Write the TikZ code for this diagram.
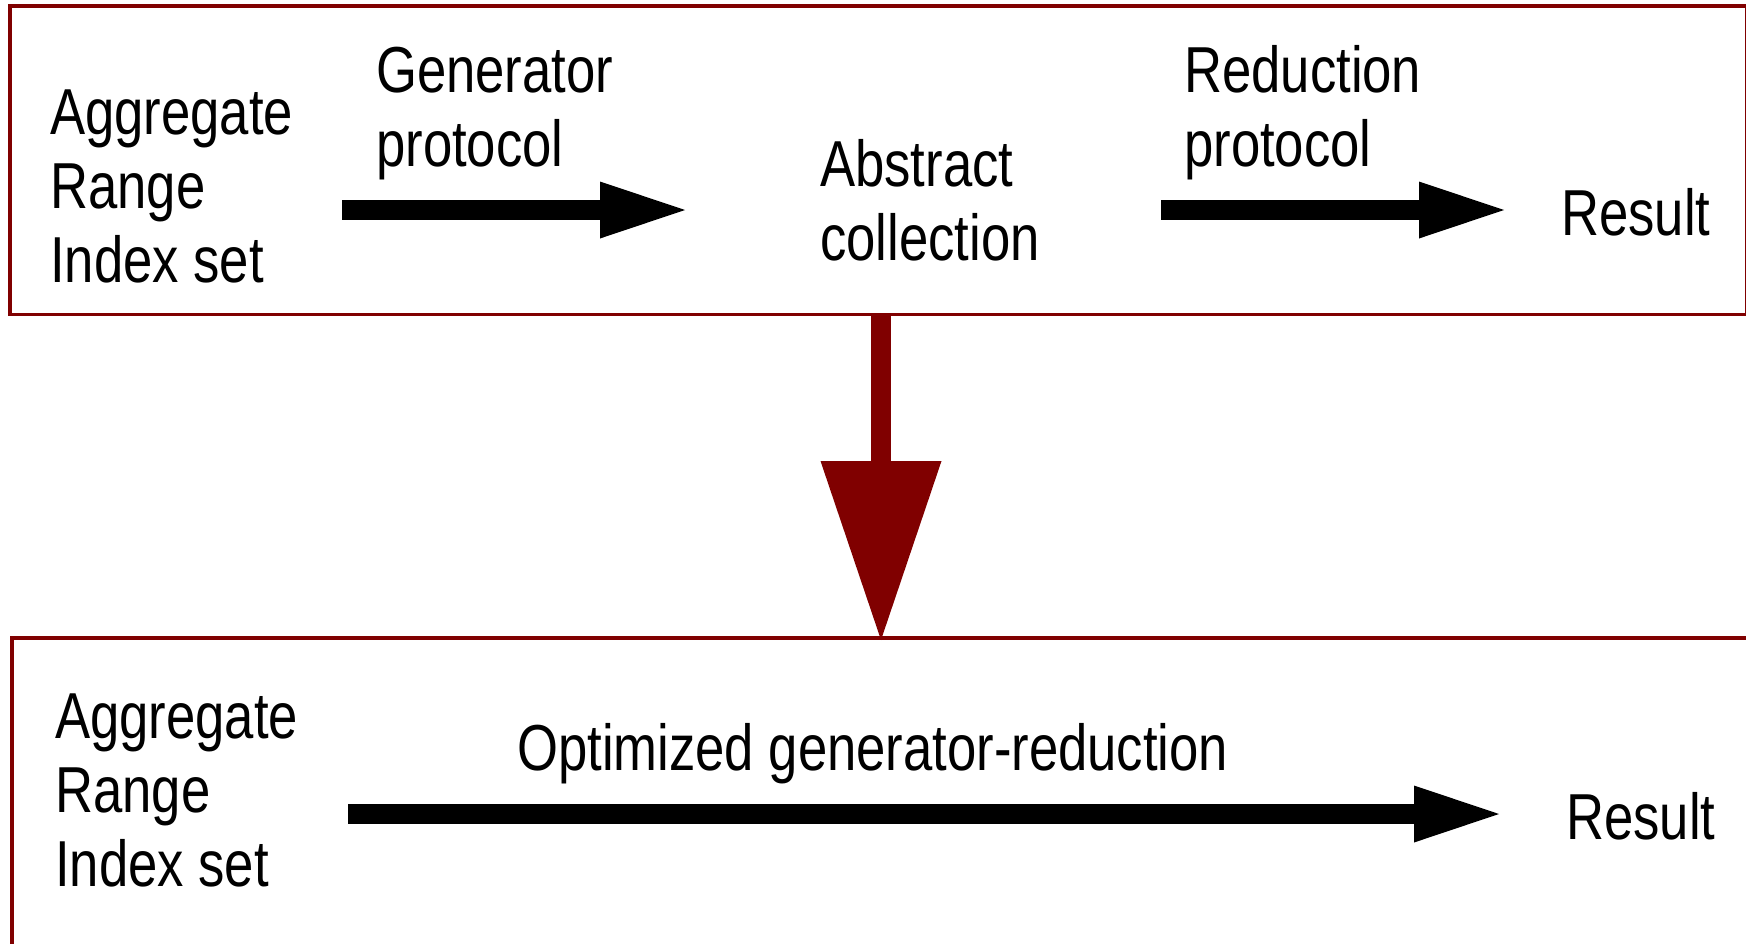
\documentclass[tikz,border=0pt]{standalone}
\usepackage{fontspec}
\setmainfont{Liberation Sans}[FakeStretch=0.81]
\usetikzlibrary{arrows.meta}
\definecolor{frameRed}{RGB}{128,0,0}
\begin{document}
\begin{tikzpicture}[x=1pt,y=-1pt,
  frame/.style={draw=frameRed,line width=3.5pt},
  % multi-line labels are placed by the baseline of their last line
  label/.style={anchor=base west,inner sep=0pt,align=left,
    font=\fontsize{65}{74}\selectfont},
  fatarrow/.style={line width=20pt,line cap=butt,
    -{Triangle[length=85pt 0 0,width=57pt 0 0,line width=0pt 0 0]}},
  downarrow/.style={frameRed,line width=20pt,line cap=butt,
    -{Triangle[length=179pt 0 0,width=121pt 0 0,line width=0pt 0 0]}}]
\clip (0,0) rectangle (1746,943);

% frames of the two pipelines
\draw[frame] (10,6) rectangle (1747,314.5);
\draw[frame] (12,638) rectangle (1780,980);

% upper pipeline
\node[label] (inA) at (50,282) {Aggregate\\Range\\Index set};
\node[label] (gen) at (376,166.5) {Generator\\protocol};
\node[label] (abs) at (820,260.5) {Abstract\\collection};
\node[label] (red) at (1184,166.5) {Reduction\\protocol};
\node[label] (resA) at (1561,235) {Result};

\coordinate (g0) at (342,210);
\coordinate (g1) at (685,210);
\coordinate (r0) at (1161,210);
\coordinate (r1) at (1504,210);
\draw[fatarrow] (g0) -- (g1);
\draw[fatarrow] (r0) -- (r1);

% transformation between the two pipelines
\coordinate (d0) at (881,314.5);
\coordinate (d1) at (881,640);
\draw[downarrow] (d0) -- (d1);

% lower pipeline
\node[label] (inB) at (55,886) {Aggregate\\Range\\Index set};
\node[label] (opt) at (517,770.5) {Optimized generator-reduction};
\node[label] (resB) at (1566,839) {Result};

\coordinate (o0) at (348,814);
\coordinate (o1) at (1499,814);
\draw[fatarrow] (o0) -- (o1);
\end{tikzpicture}
\end{document}
